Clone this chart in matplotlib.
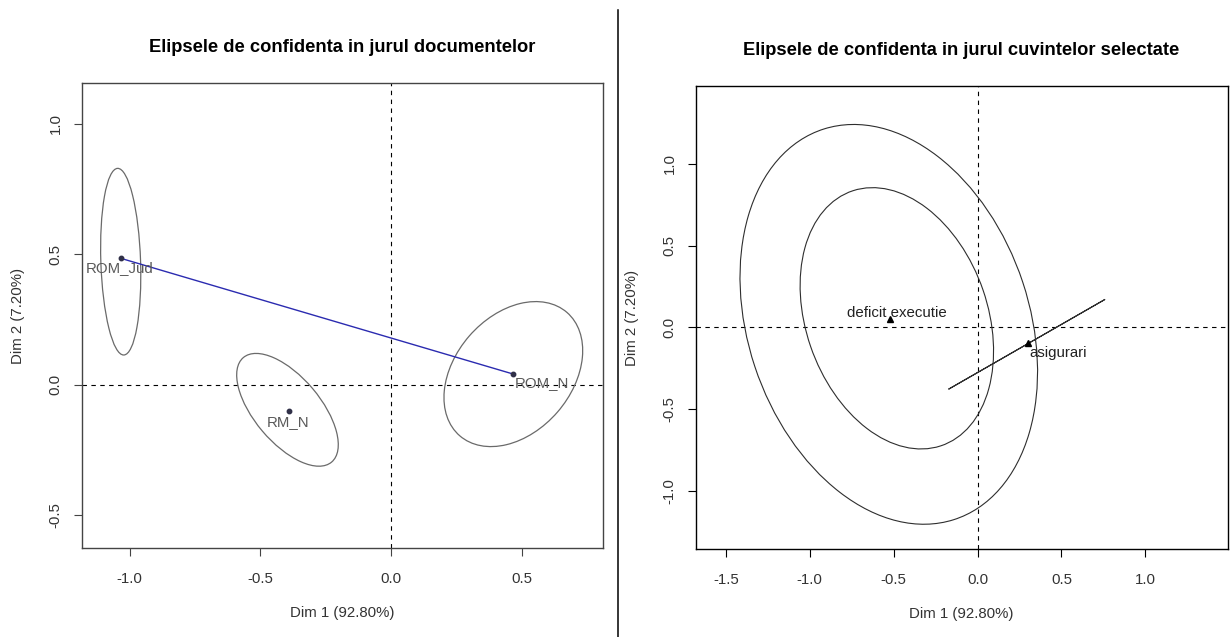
import matplotlib
matplotlib.use("Agg")
import matplotlib.pyplot as plt
from matplotlib.patches import Ellipse
from matplotlib.lines import Line2D

plt.rcParams['font.family'] = ['Liberation Sans', 'DejaVu Sans']
plt.rcParams['axes.unicode_minus'] = False

# --- documents (left panel) ---
doc_names = ["ROM_Jud", "ROM_N", "RM_N"]
doc_x = [-1.034, 0.468, -0.390]
doc_y = [0.484, 0.040, -0.102]
doc_link = ["ROM_Jud", "ROM_N"]

# confidence ellipses: centre, semi-axes, angle in degrees
doc_ell_x = [-1.034, 0.468, -0.396]
doc_ell_y = [0.471, 0.040, -0.097]
doc_ell_a = [0.358, 0.313, 0.262]
doc_ell_b = [0.076, 0.223, 0.126]
doc_ell_angle = [-88.1, 49.1, -49.9]

# --- selected words (right panel) ---
word_names = ["deficit executie", "asigurari"]
word_x = [-0.521, 0.299]
word_y = [0.053, -0.094]

# the third "ellipse" collapses to a segment (asigurari)
word_ell_x = [-0.529, -0.481, 0.2935]
word_ell_y = [0.018, 0.055, -0.104]
word_ell_a = [1.256, 0.823, 0.5415]
word_ell_b = [0.839, 0.542, 0.0]
word_ell_angle = [-72.1, -71.5, 30.5]

titles = ["Elipsele de confidenta in jurul documentelor",
          "Elipsele de confidenta in jurul cuvintelor selectate"]
xlabel = "Dim 1 (92.80%)"
ylabel = "Dim 2 (7.20%)"

W, H = 1232, 637
fig = plt.figure(figsize=(W / 100, H / 100), dpi=100)


def setup(ax, xlim, ylim, xticks, yticks, box_color, title, title_off, ylab_x):
    ax.set_xlim(*xlim)
    ax.set_ylim(*ylim)
    for sp in ax.spines.values():
        sp.set_color(box_color)
        sp.set_linewidth(1.0)
    ax.set_xticks(xticks)
    ax.set_xticklabels([f"{v:.1f}" for v in xticks])
    ax.set_yticks(yticks)
    ax.set_yticklabels([f"{v:.1f}" for v in yticks], rotation=90, va='center')
    ax.tick_params(axis='both', direction='out', length=5.8, width=0.8,
                   color=box_color, labelsize=10.8, labelcolor='#333333')
    ax.tick_params(axis='x', pad=11)
    ax.tick_params(axis='y', pad=7.8)
    ax.axhline(0, color='black', lw=0.8, ls=(0, (4, 4)), zorder=1)
    ax.axvline(0, color='black', lw=0.8, ls=(0, (4, 4)), zorder=1)
    ax.set_title(title, fontsize=13.25, fontweight='bold', y=1 + title_off,
                 va='center', pad=0)
    ax.set_xlabel(xlabel, fontsize=10.8, color='#333333')
    ax.set_ylabel(ylabel, fontsize=10.8, color='#333333')
    ax.xaxis.set_label_coords(0.5, -0.139)
    ax.xaxis.label.set_va('center')
    ax.yaxis.set_label_coords(ylab_x, 0.5)
    ax.yaxis.label.set_va('center')


# left panel
ax1 = fig.add_axes([81.5 / W, 1 - 548.3 / H, 521.1 / W, 465.0 / H])
setup(ax1, (-1.184, 0.8095), (-0.628, 1.155), [-1.0, -0.5, 0.0, 0.5],
      [-0.5, 0.0, 0.5, 1.0], '#444444', titles[0], 0.077, -0.122)

for cx, cy, a, b, ang in zip(doc_ell_x, doc_ell_y, doc_ell_a, doc_ell_b, doc_ell_angle):
    ax1.add_patch(Ellipse((cx, cy), 2 * a, 2 * b, angle=ang, fill=False,
                          edgecolor='#6a6a6a', lw=0.9, zorder=2))

i0, i1 = doc_names.index(doc_link[0]), doc_names.index(doc_link[1])
ax1.plot([doc_x[i0], doc_x[i1]], [doc_y[i0], doc_y[i1]], color='#2b2bb0', lw=1.0, zorder=3)
ax1.plot(doc_x, doc_y, 'o', color='#303048', ms=3.2, zorder=4)

doc_offsets = [(-1, -7.2), (20.8, -6.7), (-0.7, -7.7)]
for name, x, y, off in zip(doc_names, doc_x, doc_y, doc_offsets):
    ax1.annotate(name, (x, y), xytext=off, textcoords='offset points',
                 ha='center', va='center', fontsize=10.8, color='#5a5a5a', zorder=5)

# right panel
ax2 = fig.add_axes([695.5 / W, 1 - 549.3 / H, 532.2 / W, 463.3 / H])
setup(ax2, (-1.681, 1.491), (-1.358, 1.476), [-1.5, -1.0, -0.5, 0.0, 0.5, 1.0],
      [-1.0, -0.5, 0.0, 0.5, 1.0], 'black', titles[1], 0.0777, -0.1193)

for cx, cy, a, b, ang in zip(word_ell_x, word_ell_y, word_ell_a, word_ell_b, word_ell_angle):
    ax2.add_patch(Ellipse((cx, cy), 2 * a, 2 * b, angle=ang, fill=False,
                          edgecolor='#2e2e2e', lw=0.8, zorder=2))

ax2.plot(word_x, word_y, '^', color='black', ms=5, zorder=4)

word_offsets = [(4.8, 4.3), (22, -7.6)]
for name, x, y, off in zip(word_names, word_x, word_y, word_offsets):
    ax2.annotate(name, (x, y), xytext=off, textcoords='offset points',
                 ha='center', va='center', fontsize=10.8, color='#222222', zorder=5)

# separator between the two plots
fig.add_artist(Line2D([618 / W, 618 / W], [0, 1 - 9.5 / H], color='black', lw=1.1))

fig.savefig("out.png", dpi=100)
